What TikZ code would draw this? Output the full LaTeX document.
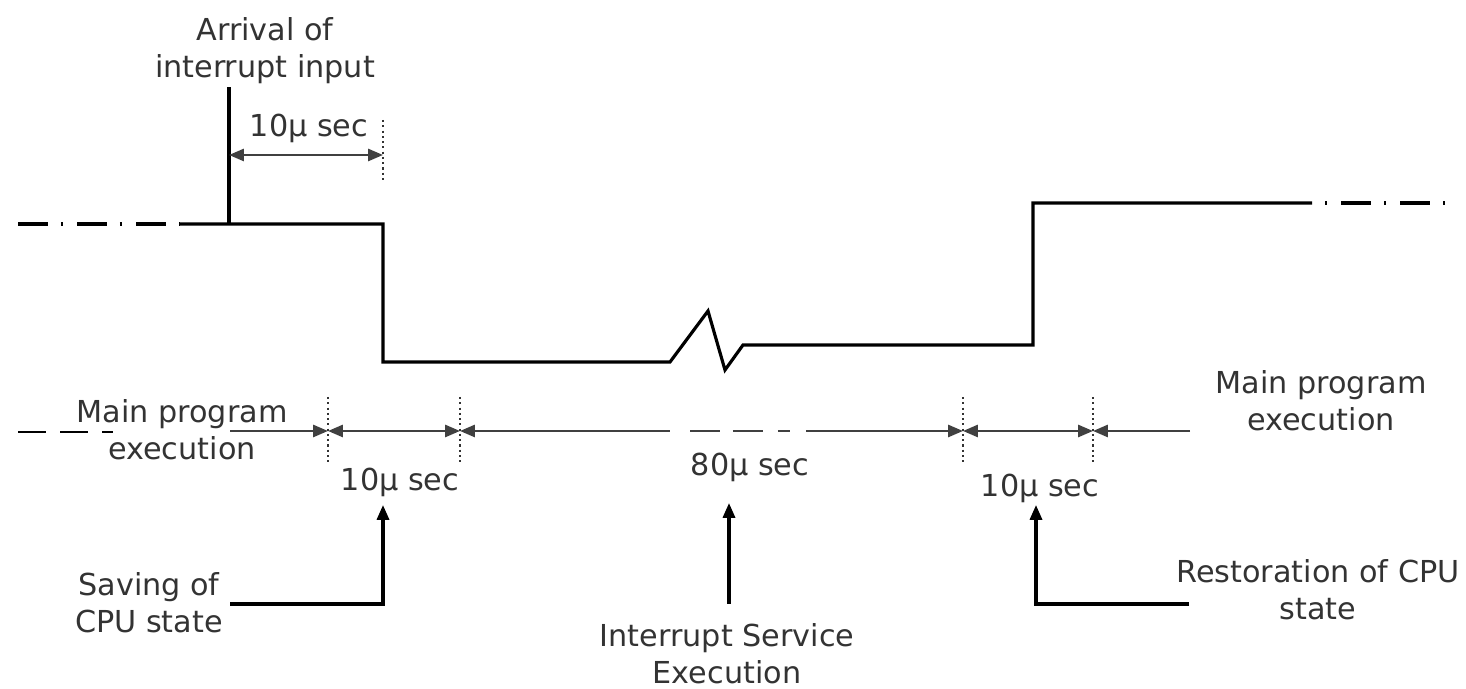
\documentclass[tikz,border=0pt]{standalone}
\usepackage{fontspec}
\setmainfont{DejaVu Sans}
\usetikzlibrary{arrows.meta}

\begin{document}
\begin{tikzpicture}[x=0.01cm,y=-0.01cm,
  txt/.style={align=center,text=black!80,inner sep=1pt,font=\fontsize{8.6pt}{10.6pt}\selectfont},
  wave/.style={line width=0.9pt},
  dashdot/.style={line width=0.9pt,dash pattern=on 8.5pt off 3.7pt on 0.6pt off 4pt},
  tip/.tip={Triangle[length=4.2pt,width=3.4pt]},
  dim/.style={line width=0.7pt,draw=black!75,tip-tip},
  toarr/.style={line width=0.7pt,draw=black!75,-tip},
  fromarr/.style={line width=0.7pt,draw=black!75,tip-},
  uparr/.style={line width=0.9pt,-tip},
  tick/.style={line width=0.6pt,black!80,dash pattern=on 0.6pt off 0.9pt}]
  \useasboundingbox (0,0) rectangle (1466,689);

  \coordinate (a0) at (18,224);
  \coordinate (a1) at (180,224);
  \coordinate (arr) at (229,224);
  \coordinate (arrtop) at (229,87);
  \coordinate (d1) at (383,224);
  \coordinate (d2) at (383,362);
  \coordinate (z0) at (670,362);
  \coordinate (z1) at (708,311);
  \coordinate (z2) at (725,370);
  \coordinate (z3) at (743,345);
  \coordinate (u1) at (1033,345);
  \coordinate (u2) at (1033,203);
  \coordinate (b0) at (1312,203);
  \coordinate (b1) at (1447,203);
  \draw[dashdot] (a0) -- (a1);
  \draw[wave] (a1) -- (d1) -- (d2) -- (z0) -- (z1) -- (z2) -- (z3) -- (u1) -- (u2) -- (b0);
  \draw[dashdot,dash phase=8.5pt] (b0) -- (b1);
  \draw[line width=1.3pt] (arr) -- (arrtop);

  \node[txt] (arrival) at (265,51) {Arrival of\\interrupt input};
  \node[txt] (t10a) at (309,128) {10µ sec};
  \coordinate (ta) at (229,155);
  \coordinate (tb) at (383,155);
  \draw[dim] (ta) -- (tb);
  \draw[tick] (383,120) -- (383,183);

  \coordinate (l0) at (18,432);
  \coordinate (l1) at (113,432);
  \coordinate (m0) at (230,431);
  \coordinate (s0) at (328,431);
  \coordinate (s1) at (460,431);
  \coordinate (g0) at (670,431);
  \coordinate (g1) at (806,431);
  \coordinate (r0) at (963,431);
  \coordinate (r1) at (1093,431);
  \coordinate (m1) at (1190,431);
  \draw[line width=0.7pt,dash pattern=on 8pt off 4pt] (l0) -- (l1);
  \draw[toarr] (m0) -- (s0);
  \draw[dim] (s0) -- (s1);
  \draw[fromarr] (s1) -- (g0);
  \draw[line width=0.7pt,black!75,dash pattern=on 0pt off 5.7pt on 8.5pt off 3.7pt on 8.5pt off 4.3pt on 3.4pt off 4.6pt] (g0) -- (g1);
  \draw[toarr] (g1) -- (r0);
  \draw[dim] (r0) -- (r1);
  \draw[toarr] (m1) -- (r1);
  \foreach \x in {328,460,963,1093}
    \draw[tick] (\x,397) -- (\x,462);

  \node[txt] (mainl) at (182,430) {Main program\\execution};
  \node[txt] (mainr) at (1321,401) {Main program\\execution};
  \node[txt] (t10b) at (400,482) {10µ sec};
  \node[txt] (t80) at (750,467) {80µ sec};
  \node[txt] (t10c) at (1040,488) {10µ sec};

  \node[txt] (save) at (149,603) {Saving of\\CPU state};
  \node[txt] (isr) at (727,654) {Interrupt Service\\Execution};
  \node[txt] (rest) at (1318,590) {Restoration of CPU\\state};
  \coordinate (sv0) at (230,604);
  \coordinate (sv1) at (383,505);
  \coordinate (is0) at (729,604);
  \coordinate (is1) at (729,503);
  \coordinate (rs0) at (1189,604);
  \coordinate (rs1) at (1036,505);
  \draw[uparr] (sv0) -| (sv1);
  \draw[uparr] (is0) -- (is1);
  \draw[uparr] (rs0) -| (rs1);
\end{tikzpicture}
\end{document}
